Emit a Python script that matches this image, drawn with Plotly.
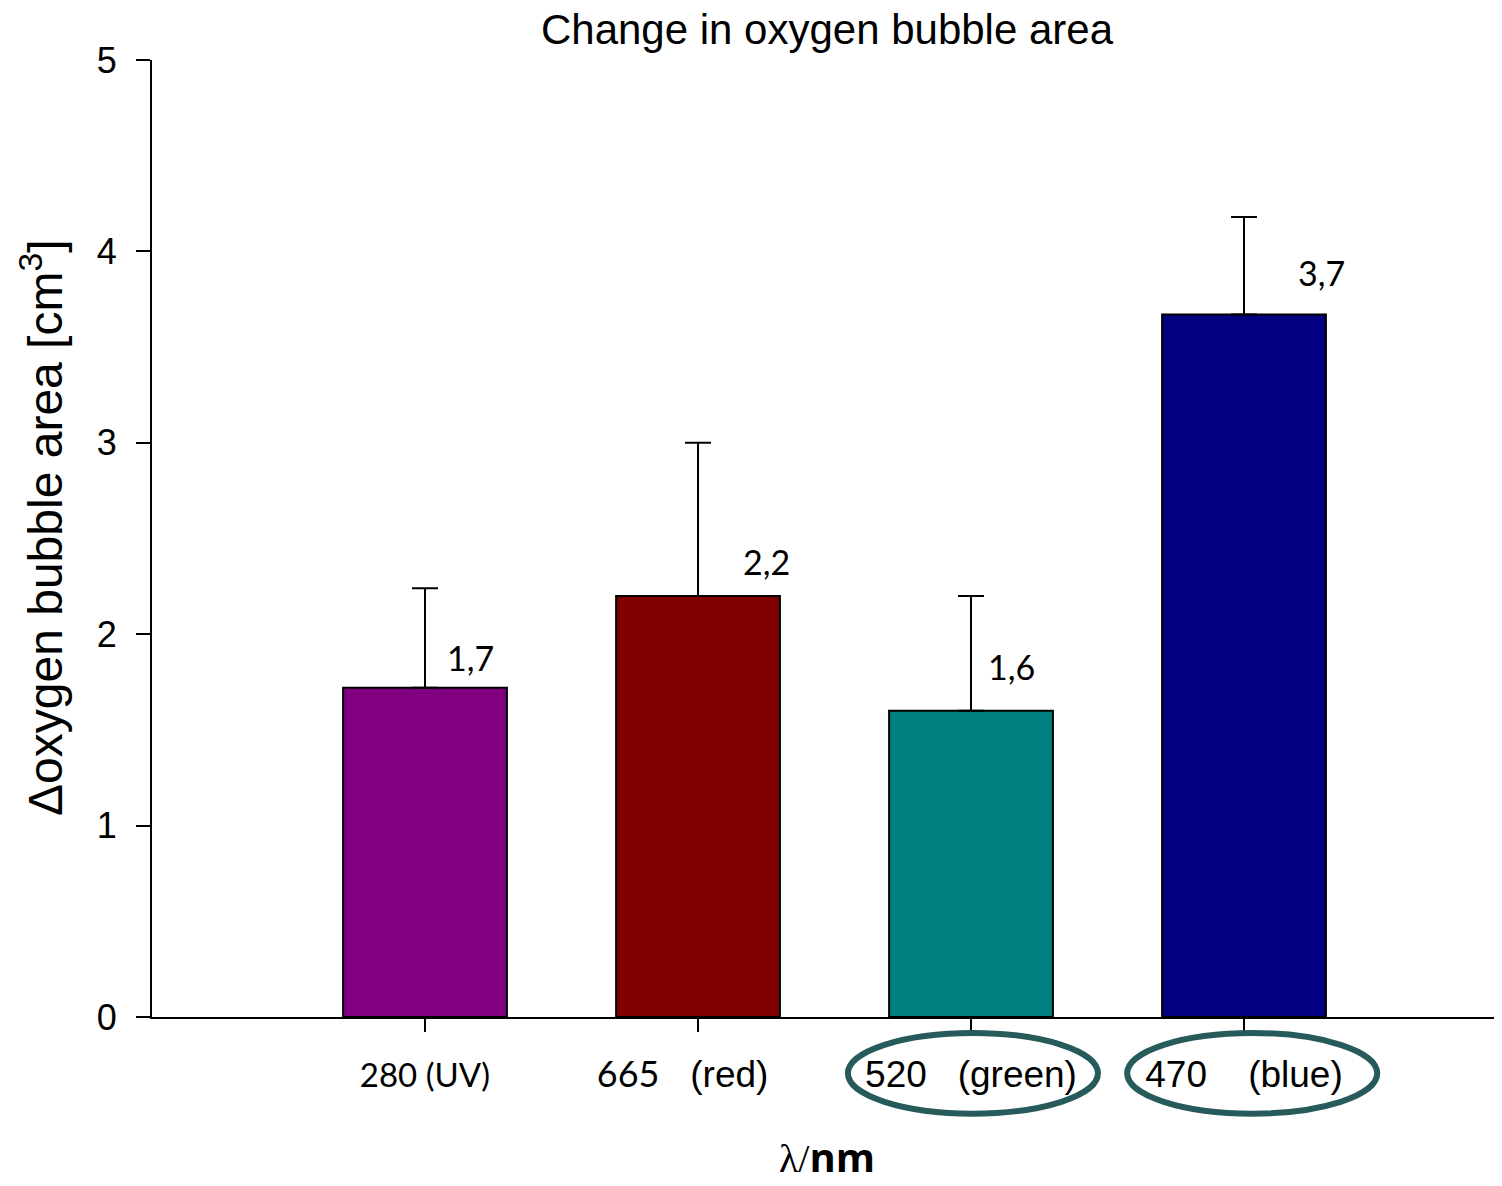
import plotly.graph_objects as go

# ---- data ----
tick_labels = [
    "<span style='font-family:Lato;font-size:33px'>280 (UV)</span>",
    "<span style='font-family:Lato;font-size:36px'>665</span>\u00a0\u00a0\u00a0(red)\u00a0\u00a0\u00a0",
    "520\u00a0\u00a0\u00a0(green)",
    "470\u00a0\u00a0\u00a0\u00a0(blue)",
]
means = [1.72, 2.20, 1.60, 3.67]
errors_up = [0.52, 0.80, 0.60, 0.51]
value_labels = ["1,7", "2,2", "1,6", "3,7"]
circled = [False, False, True, True]
y_title = "Δoxygen bubble area [cm<sup>3</sup>]"

# ---- styles ----
bar_colors = ["#800080", "#800000", "#008080", "#000080"]
label_dx = [45, 68, 40, 77]     # px offset of value labels
label_dy = [30, 34, 44, 42]
ellipse_dx = [0, 0, 0.007, 0.03]

pos = list(range(len(means)))

# page body has an 8px margin, so the figure is 8px smaller than the window
W, H = 1494, 1178

fig = go.Figure()
fig.add_trace(go.Bar(
    x=pos, y=means,
    marker=dict(color=bar_colors, line=dict(color="black", width=2)),
    width=0.6,
    error_y=dict(type="data", array=errors_up, arrayminus=[0] * len(means),
                 symmetric=False, color="black", thickness=2, width=13),
    showlegend=False,
))

annotations = []
for i, (m, t) in enumerate(zip(means, value_labels)):
    annotations.append(dict(
        x=pos[i], y=m, xref="x", yref="y", text=t, showarrow=False,
        xshift=label_dx[i], yshift=label_dy[i],
        font=dict(family="Lato", size=34, color="black"),
    ))
annotations.append(dict(
    x=-0.0815, y=0.511, xref="paper", yref="paper", text=y_title, showarrow=False,
    textangle=-90, xanchor="center", yanchor="middle",
    font=dict(family="Liberation Sans", size=48, color="black"),
))

shapes = []
for i, c in enumerate(circled):
    if c:
        shapes.append(dict(
            type="circle", xref="x", yref="paper",
            x0=pos[i] + ellipse_dx[i] - 0.458, x1=pos[i] + ellipse_dx[i] + 0.458,
            y0=-0.0167, y1=-0.101,
            line=dict(color="#275a5a", width=6),
        ))

fig.update_layout(
    width=W, height=H,
    margin=dict(l=144, r=0, t=52, b=169),
    plot_bgcolor="white", paper_bgcolor="white",
    title=dict(text="Change in oxygen bubble area", x=0.5, xref="paper",
               y=1 - 21 / H, yref="container", yanchor="middle",
               font=dict(family="Liberation Sans", size=42, color="black")),
    xaxis=dict(
        range=[-1, 3.945], tickvals=pos, ticktext=tick_labels,
        showgrid=False, zeroline=False, showline=True, linecolor="black", linewidth=2,
        ticks="outside", ticklen=13, tickwidth=2, tickcolor="black",
        tickfont=dict(family="Liberation Sans", size=37, color="black"),
        ticklabelstandoff=11,
        title=dict(text="<span style='font-family:Liberation Serif'>λ/</span><b>nm</b>",
                   font=dict(family="Open Sans", size=40, color="black"), standoff=50),
    ),
    yaxis=dict(
        range=[0, 5], dtick=1,
        showgrid=False, zeroline=False, showline=True, linecolor="black", linewidth=2,
        ticks="outside", ticklen=14, tickwidth=2, tickcolor="black",
        tickfont=dict(family="Liberation Sans", size=36, color="black"),
        ticklabelstandoff=12,
    ),
    yaxis2=dict(
        range=[0, 5], dtick=1, overlaying="y", side="left", anchor="x",
        showgrid=False, zeroline=False, showline=False, showticklabels=False,
        ticks="inside", ticklen=10, tickwidth=2, tickcolor="black",
    ),
    annotations=annotations,
    shapes=shapes,
)

fig.write_html("out.html")
